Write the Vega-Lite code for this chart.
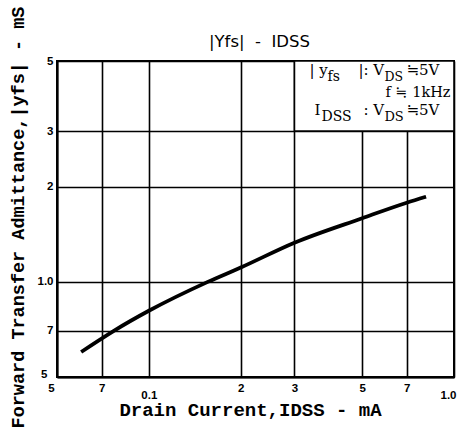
{
  "$schema": "https://vega.github.io/schema/vega-lite/v6.json",
  "width": 397,
  "height": 316,
  "autosize": {"type": "none"},
  "padding": {"left": 57, "top": 61, "right": 15, "bottom": 53},
  "background": "white",
  "title": {"text": "|Yfs|\u00a0\u00a0-\u00a0\u00a0IDSS", "font": "DejaVu Sans", "fontSize": 16.5, "fontWeight": "normal", "color": "black", "anchor": "middle", "dx": 4, "offset": -44},
  "config": {
    "view": {"stroke": "black", "strokeWidth": 2},
    "axis": {"domainColor": "black", "domainWidth": 2, "ticks": false, "grid": true, "gridColor": "black", "gridOpacity": 1, "gridWidth": 1.6, "labelFont": "Liberation Sans", "labelFontWeight": "bold", "labelFontSize": 11.5, "labelColor": "black", "titleFont": "Liberation Mono", "titleFontWeight": "bold", "titleColor": "black"}
  },
  "layer": [
    {
      "data": {"values": [
        {"idss": 0.06, "yfs": 0.60},
        {"idss": 0.0768, "yfs": 0.70},
        {"idss": 0.1, "yfs": 0.81},
        {"idss": 0.156, "yfs": 1.0},
        {"idss": 0.2, "yfs": 1.11},
        {"idss": 0.3, "yfs": 1.33},
        {"idss": 0.5, "yfs": 1.59},
        {"idss": 0.7, "yfs": 1.78},
        {"idss": 0.81, "yfs": 1.86}
      ]},
      "mark": {"type": "line", "color": "black", "strokeWidth": 3.8, "interpolate": "monotone", "strokeCap": "butt"},
      "encoding": {
        "x": {"field": "idss", "type": "quantitative",
          "scale": {"type": "log", "domain": [0.05, 1], "nice": false},
          "axis": {"values": [0.05, 0.07, 0.1, 0.2, 0.3, 0.5, 0.7, 1],
            "labelExpr": "datum.value == 0.1 ? '0.1' : datum.value > 0.99 ? '1.0' : datum.value < 0.1 ? format(datum.value*100, 'd') : format(datum.value*10, 'd')",
            "labelFlush": false,
            "labelPadding": {"condition": {"test": "datum.value == 0.1 || datum.value > 0.99", "value": 12}, "value": 5},
            "labelOffset": {"condition": {"test": "datum.value < 0.06 || datum.value > 0.99", "value": -6}, "value": 0},
            "title": "Drain Current,IDSS - mA", "titleFontSize": 19, "titleX": 193, "titleY": 38, "titleBaseline": "alphabetic", "titleAnchor": null}},
        "y": {"field": "yfs", "type": "quantitative",
          "scale": {"type": "log", "domain": [0.5, 5], "nice": false},
          "axis": {"values": [0.5, 0.7, 1, 2, 3, 5],
            "labelExpr": "datum.value == 1 ? '1.0' : datum.value < 1 ? format(datum.value*10, 'd') : format(datum.value, 'd')",
            "labelPadding": {"condition": {"test": "datum.value < 0.6", "value": 10}, "value": 4},
            "labelOffset": {"condition": {"test": "datum.value < 0.6", "value": -3}, "value": 0},
            "labelFlush": false,
            "title": "Forward Transfer Admittance,|yfs| - mS", "titleFontSize": 18.5, "titleX": -40, "titleY": 156, "titleBaseline": "middle", "titleAngle": -90, "titleAlign": "center"}}
      }
    },
    {
      "data": {"values": [{}]},
      "mark": {"type": "rect", "fill": "white", "stroke": "black", "strokeWidth": 1.6},
      "encoding": {"x": {"datum": 0.3}, "x2": {"datum": 1}, "y": {"datum": 3}, "y2": {"datum": 5}}
    },
    {"data": {"values": [{"t": "| y"}]}, "mark": {"type": "text", "font": "DejaVu Serif", "fontSize": 15, "align": "left", "baseline": "alphabetic", "dx": 15, "dy": 14, "color": "black"}, "encoding": {"x": {"datum": 0.3}, "y": {"datum": 5}, "text": {"field": "t"}}},
    {"data": {"values": [{"t": "fs"}]}, "mark": {"type": "text", "font": "DejaVu Serif", "fontSize": 14, "align": "left", "baseline": "alphabetic", "dx": 33, "dy": 20, "color": "black"}, "encoding": {"x": {"datum": 0.3}, "y": {"datum": 5}, "text": {"field": "t"}}},
    {"data": {"values": [{"t": "|: V"}]}, "mark": {"type": "text", "font": "DejaVu Serif", "fontSize": 15, "align": "left", "baseline": "alphabetic", "dx": 64, "dy": 14, "color": "black"}, "encoding": {"x": {"datum": 0.3}, "y": {"datum": 5}, "text": {"field": "t"}}},
    {"data": {"values": [{"t": "DS"}]}, "mark": {"type": "text", "font": "DejaVu Serif", "fontSize": 12.5, "align": "left", "baseline": "alphabetic", "dx": 90, "dy": 20, "color": "black"}, "encoding": {"x": {"datum": 0.3}, "y": {"datum": 5}, "text": {"field": "t"}}},
    {"data": {"values": [{"t": "≒5V"}]}, "mark": {"type": "text", "font": "DejaVu Serif", "fontSize": 15, "align": "left", "baseline": "alphabetic", "dx": 112, "dy": 14, "color": "black"}, "encoding": {"x": {"datum": 0.3}, "y": {"datum": 5}, "text": {"field": "t"}}},
    {"data": {"values": [{"t": "f ≒ 1kHz"}]}, "mark": {"type": "text", "font": "DejaVu Serif", "fontSize": 14.5, "align": "left", "baseline": "alphabetic", "dx": 91, "dy": 36, "color": "black"}, "encoding": {"x": {"datum": 0.3}, "y": {"datum": 5}, "text": {"field": "t"}}},
    {"data": {"values": [{"t": "I"}]}, "mark": {"type": "text", "font": "DejaVu Serif", "fontSize": 15, "align": "left", "baseline": "alphabetic", "dx": 20, "dy": 54, "color": "black"}, "encoding": {"x": {"datum": 0.3}, "y": {"datum": 5}, "text": {"field": "t"}}},
    {"data": {"values": [{"t": "DSS"}]}, "mark": {"type": "text", "font": "DejaVu Serif", "fontSize": 14, "align": "left", "baseline": "alphabetic", "dx": 27, "dy": 60, "color": "black"}, "encoding": {"x": {"datum": 0.3}, "y": {"datum": 5}, "text": {"field": "t"}}},
    {"data": {"values": [{"t": ": V"}]}, "mark": {"type": "text", "font": "DejaVu Serif", "fontSize": 15, "align": "left", "baseline": "alphabetic", "dx": 69, "dy": 54, "color": "black"}, "encoding": {"x": {"datum": 0.3}, "y": {"datum": 5}, "text": {"field": "t"}}},
    {"data": {"values": [{"t": "DS"}]}, "mark": {"type": "text", "font": "DejaVu Serif", "fontSize": 13, "align": "left", "baseline": "alphabetic", "dx": 90, "dy": 60, "color": "black"}, "encoding": {"x": {"datum": 0.3}, "y": {"datum": 5}, "text": {"field": "t"}}},
    {"data": {"values": [{"t": "≒5V"}]}, "mark": {"type": "text", "font": "DejaVu Serif", "fontSize": 15, "align": "left", "baseline": "alphabetic", "dx": 112, "dy": 54, "color": "black"}, "encoding": {"x": {"datum": 0.3}, "y": {"datum": 5}, "text": {"field": "t"}}}
  ]
}
